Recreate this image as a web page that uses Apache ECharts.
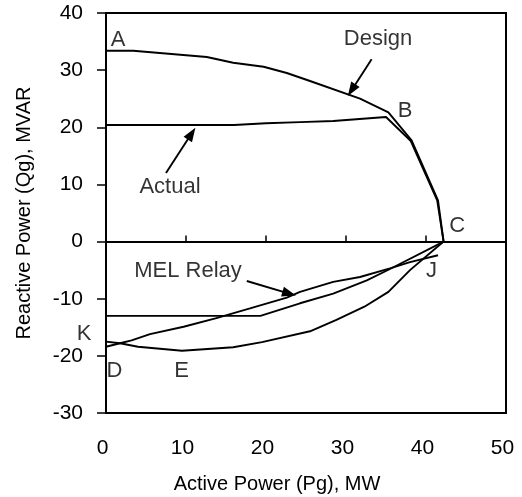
<!DOCTYPE html>
<html>
<head>
<meta charset="utf-8">
<script src="https://cdn.jsdelivr.net/npm/echarts@6/dist/echarts.min.js"></script>
<style>
  html, body { margin: 0; padding: 0; background: #fff; }
  #chart { width: 522px; height: 497px; }
</style>
</head>
<body>
<div id="chart"></div>
<script>
// capability curves, [Pg MW, Qg MVAR]
const design = [[0, 33.4], [3.4, 33.4], [12.6, 32.3], [15.9, 31.3], [19.7, 30.6], [22.6, 29.5],
  [25.5, 28.1], [31.75, 25.0], [35.3, 22.6], [38.2, 17.7], [41.5, 7.2], [42.2, 0]]
const actual = [[0, 20.4], [16, 20.4], [20, 20.7], [24.25, 20.9], [28.4, 21.1], [35.0, 21.8],
  [38.1, 17.6], [41.4, 7.2], [42.2, 0]]
const melRelayA = [[0, -18.4], [1.75, -17.8], [3.2, -17.3], [5.5, -16.2], [9.7, -14.9], [13.8, -13.4],
  [18, -11.7], [22.6, -9.8], [24.25, -8.8], [28.4, -7.05], [31.75, -6.2], [35.5, -4.7], [38, -3.6], [41.5, -2.4]]
const melRelayB = [[0, -13.0], [19.3, -13.0], [24.25, -10.8], [28.4, -9.1], [32.6, -6.8],
  [35.5, -4.8], [42.2, 0]]
const minLimit = [[0, -17.5], [1.75, -17.8], [4, -18.4], [9.5, -19.1], [15.9, -18.5], [19.5, -17.6],
  [25.5, -15.7], [28.8, -13.7], [32.3, -11.4], [35.3, -8.8], [38, -5.0], [42.2, 0]]

// text annotations and arrows
const pointLabels = ['A', 'B', 'C', 'J', 'K', 'D', 'E', 'Design', 'Actual', 'MEL Relay']
const pointLabelPos = [[1.5, 35.3], [37.4, 22.9], [43.9, 2.7], [40.7, -5.2], [-2.75, -16.2],
  [1.06, -22.7], [9.46, -22.7], [34, 35.4], [8, 9.5], [10.25, -5.2]]
const arrows = [
  [[33.2, 31.9], [30.7, 26.5]],
  [[7.5, 12.0], [10.7, 18.9]],
  [[17.6, -6.9], [22.9, -9.1]]
]

const xTicks = { min: 0, max: 50, interval: 10 }
const yTicks = { min: -30, max: 40, interval: 10 }

const FONT = "'Liberation Sans', Arial, sans-serif"

const chart = echarts.init(document.getElementById('chart'))

function curve(name, data) {
  return {
    name,
    type: 'line',
    data,
    showSymbol: false,
    symbol: 'none',
    silent: true,
    lineStyle: { color: '#000', width: 1.9 },
    z: 3
  }
}

chart.setOption({
  animation: false,
  grid: {
    left: 106, right: 16, top: 13, bottom: 84,
    outerBoundsMode: 'none',
    show: true, borderColor: '#000', borderWidth: 2
  },
  xAxis: [
    {
      // zero line with small ticks pointing up
      type: 'value', ...xTicks,
      axisLine: { onZero: true, lineStyle: { color: '#000', width: 2 } },
      axisTick: { inside: true, length: 6, lineStyle: { color: '#000', width: 1.5 } },
      axisLabel: { show: false },
      splitLine: { show: false }
    },
    {
      // labels along the bottom edge
      type: 'value', ...xTicks, position: 'bottom',
      axisLine: { show: false, onZero: false },
      axisTick: { show: false },
      axisLabel: { color: '#000', fontSize: 21, fontFamily: FONT, margin: 25, padding: [0, 7, 0, 0] },
      splitLine: { show: false },
      name: 'Active Power (Pg), MW',
      nameLocation: 'middle',
      nameGap: 61,
      nameTextStyle: { color: '#000', fontSize: 20, fontFamily: FONT, padding: [0, 58, 0, 0] }
    }
  ],
  yAxis: {
    type: 'value', ...yTicks,
    axisLine: { show: true, onZero: false, lineStyle: { color: '#000', width: 2 } },
    axisTick: { show: true, length: 9, lineStyle: { color: '#000', width: 1.5 } },
    axisLabel: { color: '#000', fontSize: 21, fontFamily: FONT, margin: 23 },
    splitLine: { show: false },
    name: 'Reactive Power (Qg), MVAR',
    nameLocation: 'middle',
    nameGap: 72,
    nameTextStyle: { color: '#000', fontSize: 20, fontFamily: FONT }
  },
  series: [
    curve('Design', design),
    curve('Actual', actual),
    curve('MEL Relay A', melRelayA),
    curve('MEL Relay B', melRelayB),
    curve('Min Limit', minLimit),
    {
      name: 'labels',
      type: 'scatter',
      symbolSize: 0,
      clip: false,
      silent: true,
      data: pointLabels.map((t, i) => ({ name: t, value: pointLabelPos[i] })),
      label: {
        show: true,
        position: 'inside',
        formatter: p => p.name,
        color: '#000',
        fontSize: 22,
        fontFamily: FONT
      },
      markLine: {
        silent: true,
        symbol: ['none', 'triangle'],
        symbolSize: [10, 14],
        label: { show: false },
        lineStyle: { color: '#000', width: 1.9, type: 'solid' },
        data: arrows.map(a => [{ coord: a[0] }, { coord: a[1] }])
      }
    }
  ]
})
</script>
</body>
</html>
